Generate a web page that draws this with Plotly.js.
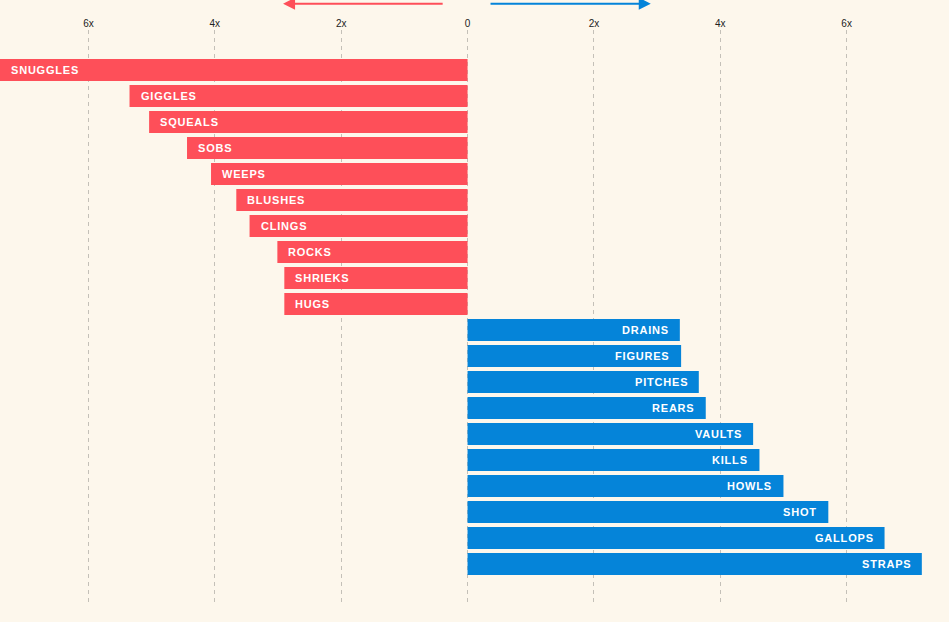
<!DOCTYPE html>
<html>
<head>
<meta charset="utf-8">
<script src="https://cdn.plot.ly/plotly-3.0.1.min.js"></script>
<style>
html,body{margin:0;padding:0;background:#fdf7ec;}
#chart{width:949px;height:622px;}
.annotation-text{letter-spacing:0.8px;}
</style>
</head>
<body>
<div id="chart"></div>
<script>
// Words more common in one group (left, red) vs other (right, blue)
var redWords = ['SNUGGLES','GIGGLES','SQUEALS','SOBS','WEEPS','BLUSHES','CLINGS','ROCKS','SHRIEKS','HUGS'];
var redValues = [7.43, 5.35, 5.04, 4.44, 4.06, 3.66, 3.45, 3.01, 2.90, 2.90];
var blueWords = ['DRAINS','FIGURES','PITCHES','REARS','VAULTS','KILLS','HOWLS','SHOT','GALLOPS','STRAPS'];
var blueValues = [3.36, 3.38, 3.66, 3.77, 4.52, 4.62, 5.00, 5.71, 6.60, 7.19];
var tickVals = [-6, -4, -2, 0, 2, 4, 6];
var tickText = ['6x', '4x', '2x', '0', '2x', '4x', '6x'];

var RED = '#fe4f59', BLUE = '#0584d9', BG = '#fdf7ec';
var xRange = [-7.40, 7.62];
var allWords = redWords.concat(blueWords);

var traces = [
  {type:'bar', orientation:'h', y:redWords, x:redValues.map(function(v){return -v;}),
   marker:{color:RED, line:{width:0}}, hoverinfo:'skip'},
  {type:'bar', orientation:'h', y:blueWords, x:blueValues,
   marker:{color:BLUE, line:{width:0}}, hoverinfo:'skip'}
];

var labelFont = {family:'Liberation Sans, Arial, sans-serif', size:11, color:'#ffffff', weight:'bold'};
var annotations = [];
redWords.forEach(function(w, i){
  var x = Math.max(-redValues[i], xRange[0]);
  annotations.push({x:x, y:w, xref:'x', yref:'y', text:w, showarrow:false,
    xanchor:'left', yanchor:'middle', xshift:9, font:labelFont});
});
blueWords.forEach(function(w, i){
  var x = Math.min(blueValues[i], xRange[1]);
  annotations.push({x:x, y:w, xref:'x', yref:'y', text:w, showarrow:false,
    xanchor:'right', yanchor:'middle', xshift:-9, font:labelFont});
});
// direction arrows
annotations.push({x:-2.92, y:1.046, xref:'x', yref:'paper', ax:-0.37, ay:0, axref:'x', ayref:'pixel',
  text:'', showarrow:true, arrowhead:2, arrowsize:1.2, arrowwidth:2, arrowcolor:RED, standoff:0});
annotations.push({x:2.90, y:1.046, xref:'x', yref:'paper', ax:0.34, ay:0, axref:'x', ayref:'pixel',
  text:'', showarrow:true, arrowhead:2, arrowsize:1.2, arrowwidth:2, arrowcolor:BLUE, standoff:0});

var layout = {
  width:949, height:622,
  paper_bgcolor:BG, plot_bgcolor:BG,
  margin:{l:0, r:0, t:30, b:19, pad:0},
  showlegend:false,
  barmode:'overlay',
  bargap:0.154,
  xaxis:{
    range:xRange, side:'top', tickvals:tickVals, ticktext:tickText,
    showgrid:true, gridcolor:'#c4c0b8', gridwidth:1, griddash:'4px,4px',
    zeroline:false, showline:false, ticks:'',
    tickfont:{family:'Liberation Sans, Arial, sans-serif', size:10, color:'#222222'},
    fixedrange:true
  },
  yaxis:{
    type:'category', categoryorder:'array', categoryarray:allWords,
    range:[20.5, -1.54], autorange:false,
    showticklabels:false, showgrid:false, zeroline:false, showline:false, ticks:'',
    fixedrange:true
  },
  annotations:annotations
};

Plotly.newPlot('chart', traces, layout, {displayModeBar:false, staticPlot:true});
</script>
</body>
</html>
